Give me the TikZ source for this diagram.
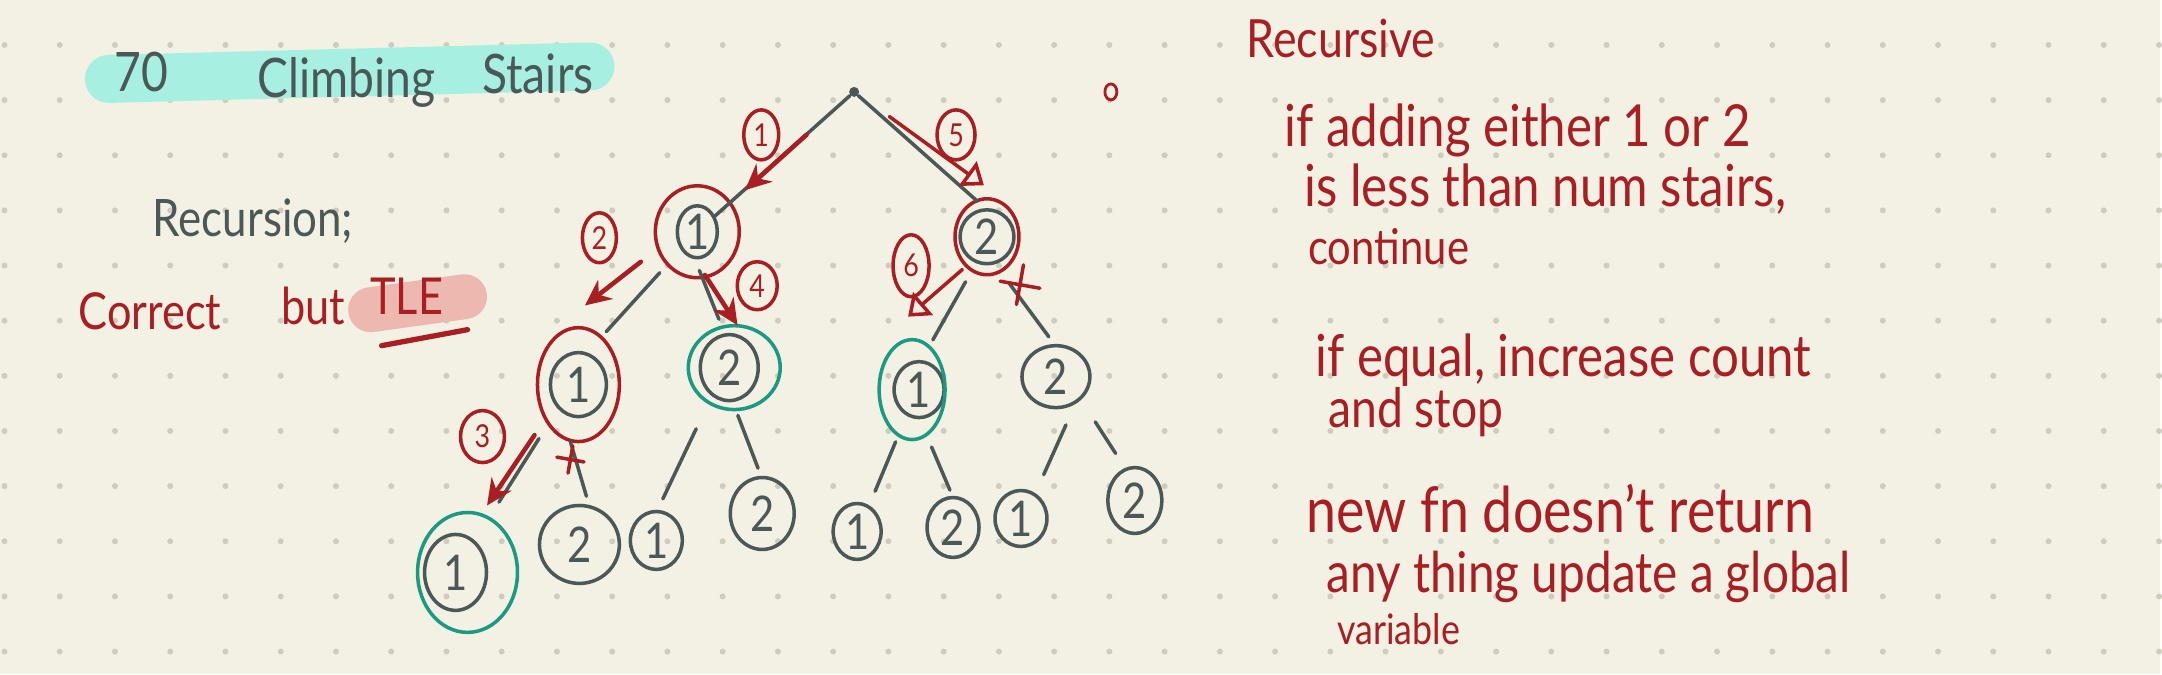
\documentclass[tikz,border=0pt]{standalone}
\usepackage{fontspec}
\setmainfont[FakeStretch=0.85]{Lato}
\usetikzlibrary{arrows.meta,calc,shapes.geometric,shapes.misc}
\definecolor{paper}{HTML}{F3F0E4}
\definecolor{dotgray}{HTML}{CFCBBF}
\definecolor{inkgray}{HTML}{4A5858}
\definecolor{inkred}{HTML}{A81E22}
\definecolor{inkteal}{HTML}{1A9A82}
\definecolor{hiteal}{HTML}{A7EFE0}
\definecolor{hipink}{HTML}{ECB8B0}
\newcommand\penfont[1]{\fontsize{#1}{#1}\selectfont}
\tikzset{
  num/.style 2 args={ellipse,draw=inkgray,line width=1pt,inner sep=0pt,outer sep=0pt,
    minimum width=#1,minimum height=#2,text=inkgray,font=\penfont{14}},
  stepnum/.style 2 args={ellipse,draw=inkred,line width=1pt,inner sep=0pt,
    minimum width=#1,minimum height=#2,text=inkred,font=\penfont{9}},
  twig/.style={draw=inkgray,line width=1pt},
  redpen/.style={draw=inkred,line width=1pt},
  tealpen/.style={draw=inkteal,line width=1pt},
  walk/.style={draw=inkred,line width=1.3pt,-{Stealth[length=2.6mm,width=2.4mm]}},
  backtrack/.style={draw=inkred,line width=1pt,-{Triangle[open,length=2mm,width=3mm]}},
  nope/.style={draw=inkred,line width=1pt,cross out,rotate=35,inner sep=0pt,minimum size=#1},
  hand/.style={anchor=base west,inner sep=0pt,text=inkgray,font=\penfont{#1}},
  note/.style={anchor=base west,inner sep=0pt,text=inkred,font=\penfont{#1}}
}
\begin{document}
\begin{tikzpicture}[>=Stealth,line cap=round,line join=round]
  \fill[paper] (0,0) rectangle (21.62,-6.75);
  \foreach \i in {0,...,39}
    \foreach \j in {0,...,11}
      \fill[dotgray] (0.045+0.553*\i,-0.45-0.552*\j) circle (0.03);

  \draw[hiteal,line width=4.8mm] (1.09,-0.79) -- (5.91,-0.665);
  \draw[hipink,line width=4.5mm] (3.71,-3.10) -- (4.65,-2.97);

  \node[hand=15.5] (prob) at (1.14,-0.92) {70};
  \node[hand=15.5] (climb) at (2.57,-0.98) {Climbing};
  \node[hand=15.5] (stairs) at (4.82,-0.94) {Stairs};
  \node[hand=14.7] (recur) at (1.52,-2.37) {Recursion;};
  \node[note=14.5] (correct) at (0.78,-3.30) {Correct};
  \node[note=14.5] (but) at (2.81,-3.25) {but};
  \node[note=14.5] (tle) at (3.70,-3.15) {TLE};
  \draw[inkred,line width=1.5pt] (3.82,-3.46) -- (4.68,-3.30);

  \node[note=15] (method) at (12.47,-0.58) {Recursive};
  \node[note=16.5] (rule1) at (12.85,-1.47) {if adding either 1 or 2};
  \node[note=16.5] (rule2) at (13.05,-2.07) {is less than num stairs,};
  \node[note=14] (rule3) at (13.09,-2.65) {continue};
  \node[note=16.5] (rule4) at (13.16,-3.77) {if equal, increase count};
  \node[note=15.5] (rule5) at (13.29,-4.28) {and stop};
  \node[note=18] (rule6) at (13.07,-5.33) {new fn doesn't return};
  \node[note=16] (rule7) at (13.27,-5.93) {any thing update a global};
  \node[note=12] (rule8) at (13.38,-6.45) {variable};
  \draw[redpen,line width=0.8pt] (11.12,-0.92) ellipse [x radius=0.06,y radius=0.08];

  \node[circle,fill=inkgray,inner sep=0pt,minimum size=1mm] (root) at (8.55,-0.92) {};
  \node[num={4mm}{5.2mm}] (l1a) at (6.98,-2.32) {1};
  \node[num={5.4mm}{5.4mm}] (l1b) at (9.88,-2.37) {2};
  \node[num={5.6mm}{6.4mm}] (l2a) at (5.79,-3.85) {1};
  \node[num={5.8mm}{6.6mm}] (l2b) at (7.30,-3.68) {2};
  \node[num={5mm}{5.6mm}] (l2c) at (9.20,-3.90) {1};
  \node[num={6.8mm}{6.2mm}] (l2d) at (10.57,-3.77) {2};
  \node[num={6.2mm}{7.6mm}] (l3a) at (4.56,-5.73) {1};
  \node[num={8mm}{7.8mm}] (l3b) at (5.80,-5.45) {2};
  \node[num={5.2mm}{5.8mm}] (l3c) at (6.57,-5.41) {1};
  \node[num={6.4mm}{7.2mm}] (l3d) at (7.63,-5.14) {2};
  \node[num={4.8mm}{5.6mm}] (l3e) at (8.58,-5.32) {1};
  \node[num={5.2mm}{6mm}] (l3f) at (9.54,-5.28) {2};
  \node[num={5.2mm}{5.6mm}] (l3g) at (10.22,-5.19) {1};
  \node[num={5.4mm}{6.6mm}] (l3h) at (11.36,-5.01) {2};

  \draw[redpen] (l1a.center) ellipse [x radius=0.42,y radius=0.46];
  \draw[redpen] (l1b.center) ellipse [x radius=0.32,y radius=0.38];
  \draw[redpen] (l2a.center) ellipse [x radius=0.41,y radius=0.57];
  \draw[tealpen] ([xshift=0.5mm]l2b.center) ellipse [x radius=0.46,y radius=0.42];
  \draw[tealpen] ([xshift=-0.7mm]l2c.center) ellipse [x radius=0.33,y radius=0.50];
  \draw[tealpen] ([xshift=1.2mm]l3a.center) ellipse [x radius=0.50,y radius=0.60];

  \draw[twig] (root) -- (l1a);
  \draw[twig,shorten >=1.3mm] (root) -- (l1b.north);
  \draw[twig,shorten <=3.3mm,shorten >=3mm] (l1a.-133) -- (l2a.76);
  \draw[twig,shorten <=1.4mm,shorten >=1.7mm] (l1a.-97) -- (l2b.97);
  \draw[twig,shorten <=2.3mm,shorten >=2.5mm] (l1b.-112) -- (l2c.87);
  \draw[twig,shorten <=2.6mm,shorten >=1.1mm] (l1b.-75) -- (l2d.91);
  \draw[twig,shorten <=3.7mm,shorten >=4.7mm] (l2a.-131) -- (l3a.59);
  \draw[twig,shorten <=3.4mm,shorten >=1.1mm] (l2a.-125) -- (l3b.75);
  \draw[twig,shorten <=3.8mm,shorten >=1.4mm] (l2b.-122) -- (l3c.89);
  \draw[twig,shorten <=1.6mm,shorten >=1mm] (l2b.-85) -- (l3d.91);
  \draw[twig,shorten <=3mm,shorten >=1.7mm] (l2c.-116) -- (l3e.65);
  \draw[twig,shorten <=3.2mm,shorten >=0.8mm] (l2c.-90) -- (l3f.90);
  \draw[twig,shorten <=2.6mm,shorten >=2.2mm] (l2d.-50) -- (l3g.60);
  \draw[twig,shorten <=2.8mm,shorten >=1.9mm] (l2d.-42) -- (l3h.106);

  \draw[walk] (root) ++(-138:0.64) -- ++(-138:0.83);
  \draw[walk] (l1a) ++(-152:0.64) -- ++(-142:0.71);
  \draw[walk] (l2a) ++(-131:0.67) -- ++(-124:0.85);
  \draw[walk] (l1a) ++(-80:0.44) -- ++(-57:0.60);
  \draw[backtrack] (root) ++(-35:0.43) -- ++(-36:1.17);
  \draw[backtrack] (l1b) ++(-127:0.41) -- ++(-139:0.72);

  \node[stepnum={3.5mm}{5mm}] (s1) at (7.62,-1.35) {1};
  \node[stepnum={3.4mm}{5mm}] (s2) at (6.00,-2.38) {2};
  \node[stepnum={4.4mm}{5.2mm}] (s3) at (4.83,-4.37) {3};
  \node[stepnum={4mm}{4.8mm}] (s4) at (7.58,-2.86) {4};
  \node[stepnum={3.8mm}{5mm}] (s5) at (9.57,-1.35) {5};
  \node[stepnum={3.6mm}{6.2mm}] (s6) at (9.12,-2.66) {6};

  \node[nope=1.6mm] (cutl) at (5.71,-4.60) {};
  \node[nope=2.5mm] (cutr) at (10.21,-2.85) {};
\end{tikzpicture}
\end{document}
